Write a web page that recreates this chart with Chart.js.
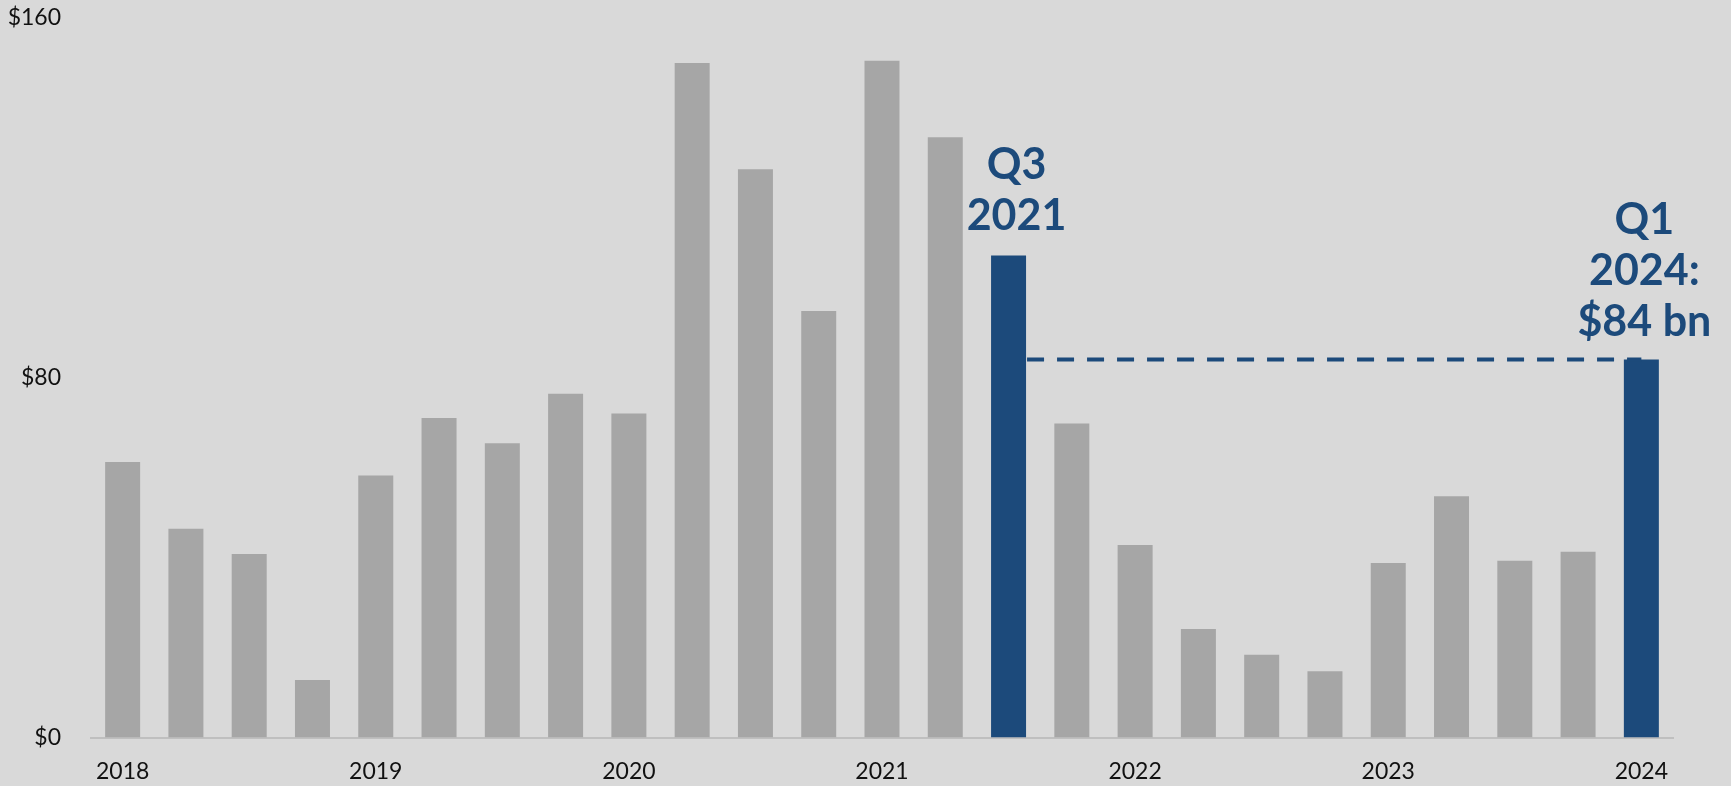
<!DOCTYPE html>
<html>
<head>
<meta charset="utf-8">
<script src="https://cdn.jsdelivr.net/npm/chart.js@4/dist/chart.umd.min.js"></script>
<style>
  html, body { margin: 0; padding: 0; background: #d9d9d9; }
  #wrap { width: 1731px; height: 786px; }
</style>
</head>
<body>
<div id="wrap"><canvas id="chart" width="1731" height="786"></canvas></div>
<script>
const quarters = [
    'Q1 2018', 'Q2 2018', 'Q3 2018', 'Q4 2018',
    'Q1 2019', 'Q2 2019', 'Q3 2019', 'Q4 2019',
    'Q1 2020', 'Q2 2020', 'Q3 2020', 'Q4 2020',
    'Q1 2021', 'Q2 2021', 'Q3 2021', 'Q4 2021',
    'Q1 2022', 'Q2 2022', 'Q3 2022', 'Q4 2022',
    'Q1 2023', 'Q2 2023', 'Q3 2023', 'Q4 2023',
    'Q1 2024'
];
const values = [
    61.2, 46.4, 40.8, 12.8,
    58.2, 71.0, 65.4, 76.4,
    72.0, 149.9, 126.3, 94.8,
    150.4, 133.4, 107.1, 69.8,
    42.8, 24.1, 18.4, 14.7,
    38.8, 53.6, 39.3, 41.3,
    84.0
];
const highlighted = ['Q3 2021', 'Q1 2024'];
const yTicks = [0, 80, 160];
const peakText = ['Q3', '2021'];
const latestText = ['Q1', '2024:', '$84 bn'];

const grey = '#a6a6a6';
const blue = '#1c4a7b';
const font = 'Lato, "Noto Sans", sans-serif';

// callout text and dashed reference line
const callouts = {
    id: 'callouts',
    afterDatasetsDraw(chart) {
        const ctx = chart.ctx;
        const bars = chart.getDatasetMeta(0).data;
        const y = chart.scales.y;
        const iPeak = quarters.indexOf(highlighted[0]);
        const iLast = quarters.indexOf(highlighted[1]);
        const peak = bars[iPeak];
        const last = bars[iLast];

        ctx.save();
        ctx.strokeStyle = blue;
        ctx.lineWidth = 4;
        ctx.setLineDash([17, 13]);
        const ly = y.getPixelForValue(values[iLast]);
        ctx.beginPath();
        ctx.moveTo(peak.x + peak.width / 2 + 1, ly);
        ctx.lineTo(last.x, ly);
        ctx.stroke();
        ctx.setLineDash([]);

        ctx.fillStyle = blue;
        ctx.font = 'bold 43px ' + font;
        ctx.textAlign = 'center';
        ctx.textBaseline = 'middle';
        const lh = 51;
        peakText.forEach((t, i) => {
            ctx.fillText(t, peak.x + 8, peak.y - 39 - (peakText.length - 1 - i) * lh);
        });
        latestText.forEach((t, i) => {
            ctx.fillText(t, last.x + 3, last.y - 37 - (latestText.length - 1 - i) * lh);
        });
        ctx.restore();
    }
};

const ctx = document.getElementById('chart');
const chart = new Chart(ctx, {
    type: 'bar',
    data: {
        labels: quarters,
        datasets: [{
            data: values,
            backgroundColor: quarters.map(q => highlighted.includes(q) ? blue : grey),
            borderWidth: 0,
            categoryPercentage: 0.553,
            barPercentage: 1
        }]
    },
    options: {
        responsive: false,
        animation: false,
        events: [],
        layout: { padding: { left: 0, right: 58, top: 17.5, bottom: 0 } },
        plugins: {
            legend: { display: false },
            tooltip: { enabled: false }
        },
        scales: {
            x: {
                grid: { display: false, drawTicks: false },
                border: { display: true, color: '#bfbfbf', width: 2 },
                ticks: {
                    autoSkip: false,
                    maxRotation: 0,
                    padding: 20,
                    color: '#111',
                    font: { family: font, size: 23 },
                    callback: function(value, index) {
                        const q = quarters[index];
                        return q.startsWith('Q1') ? q.slice(3) : '';
                    }
                },
                afterFit: function(scale) {
                    scale.height = 48.5;
                    scale.paddingLeft = 0;
                    scale.paddingRight = 0;
                }
            },
            y: {
                min: 0,
                max: 160,
                grid: { display: false, drawTicks: false },
                border: { display: false },
                afterBuildTicks: function(scale) {
                    scale.ticks = yTicks.map(v => ({ value: v }));
                },
                ticks: {
                    padding: 30,
                    color: '#111',
                    font: { family: font, size: 23 },
                    callback: function(value) { return '$' + value; }
                },
                afterFit: function(scale) {
                    scale.width = 91;
                    scale.paddingTop = 0;
                    scale.paddingBottom = 0;
                }
            }
        }
    },
    plugins: [callouts]
});
</script>
</body>
</html>
